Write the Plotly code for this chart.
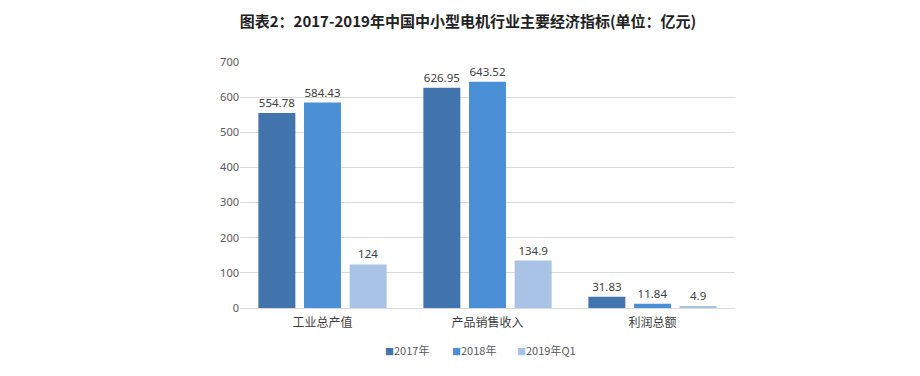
import plotly.graph_objects as go

categories = ["工业总产值", "产品销售收入", "利润总额"]
series_names = ["2017年", "2018年", "2019年Q1"]
v2017 = [554.78, 626.95, 31.83]
v2018 = [584.43, 643.52, 11.84]
v2019q1 = [124, 134.9, 4.9]
labels2017 = ["554.78", "626.95", "31.83"]
labels2018 = ["584.43", "643.52", "11.84"]
labels2019 = ["124", "134.9", "4.9"]
colors = ["#4274ad", "#4b90d6", "#a8c3e6"]
legend_x = [0.289, 0.424, 0.556]

fig = go.Figure()
for name, vals, labs, c in zip(series_names, [v2017, v2018, v2019q1],
                               [labels2017, labels2018, labels2019], colors):
    fig.add_trace(go.Bar(
        x=categories, y=vals, name=name, text=labs,
        textposition="outside", cliponaxis=False,
        textfont=dict(size=11.5, color="#404040", family="Noto Sans"),
        marker=dict(color=c, line=dict(width=0)),
        showlegend=False,
    ))

for name, c, lx in zip(series_names, colors, legend_x):
    fig.add_annotation(
        x=lx, y=-0.171, xref="paper", yref="paper", xanchor="left", yanchor="middle",
        showarrow=False,
        text=f"<span style='color:{c};font-size:9px'>■</span>{name}",
        font=dict(size=11, color="#595959", family="Noto Sans CJK SC"),
    )

fig.update_layout(
    width=920, height=376,
    paper_bgcolor="white", plot_bgcolor="white",
    margin=dict(l=232, r=193, t=54, b=76),
    title=dict(text="<b>图表2：2017-2019年中国中小型电机行业主要经济指标(单位：亿元)</b>",
               x=0.5, xanchor="center", y=0.963, yanchor="middle",
               font=dict(size=15, color="#222222", family="Noto Sans CJK SC")),
    barmode="group", bargap=0.17, bargroupgap=0.19,
    font=dict(family="Noto Sans CJK SC"),
)
fig.update_yaxes(range=[0, 700], dtick=100, showgrid=True, gridcolor="#d9d9d9",
                 zeroline=True, zerolinecolor="#d9d9d9", zerolinewidth=1,
                 tickfont=dict(size=11, color="#595959", family="Noto Sans"),
                 ticks="", ticklen=0, showline=False)
fig.update_xaxes(tickfont=dict(size=12, color="#404040", family="Noto Sans CJK SC"),
                 showline=True, linecolor="#d9d9d9", ticks="", ticklabelstandoff=4)

fig.write_html("out.html")
